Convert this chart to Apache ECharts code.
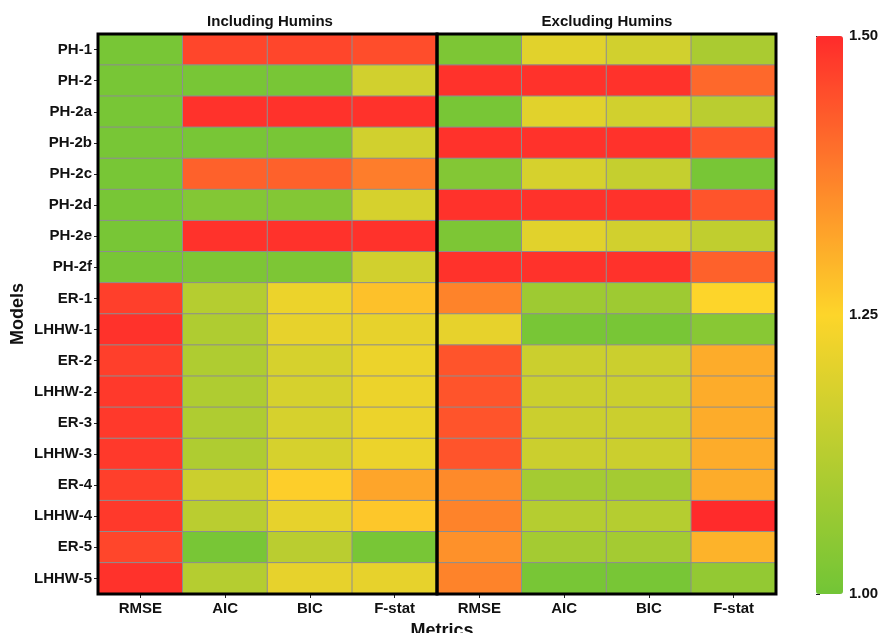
<!DOCTYPE html>
<html><head><meta charset="utf-8">
<script src="https://cdn.jsdelivr.net/npm/echarts@6/dist/echarts.min.js"></script>
<style>html,body{margin:0;padding:0;background:#fff}#c{width:882px;height:633px}</style>
</head><body><div id="c"></div>
<script>
const models = ['PH-1','PH-2','PH-2a','PH-2b','PH-2c','PH-2d','PH-2e','PH-2f','ER-1','LHHW-1','ER-2','LHHW-2','ER-3','LHHW-3','ER-4','LHHW-4','ER-5','LHHW-5'];
const metrics = ['RMSE','AIC','BIC','F-stat'];
const groups = ['Including Humins','Excluding Humins'];
const colorTicks = [1.00, 1.25, 1.50];

// Including humins
const incRMSE = [1.01,1.01,1.01,1.01,1.01,1.01,1.01,1.01,1.47,1.49,1.47,1.48,1.48,1.48,1.47,1.48,1.46,1.49];
const incAIC  = [1.46,1.01,1.49,1.01,1.42,1.03,1.49,1.02,1.12,1.11,1.11,1.11,1.11,1.11,1.16,1.13,1.01,1.12];
const incBIC  = [1.46,1.01,1.49,1.01,1.42,1.03,1.49,1.02,1.22,1.21,1.18,1.18,1.18,1.18,1.26,1.21,1.13,1.21];
const incF    = [1.45,1.17,1.49,1.17,1.38,1.18,1.49,1.17,1.28,1.21,1.22,1.22,1.22,1.22,1.32,1.27,1.01,1.21];
// Excluding humins
const excRMSE = [1.02,1.49,1.01,1.49,1.03,1.49,1.02,1.49,1.37,1.21,1.44,1.44,1.44,1.44,1.36,1.37,1.35,1.37];
const excAIC  = [1.20,1.49,1.20,1.49,1.18,1.49,1.20,1.49,1.08,1.01,1.16,1.16,1.16,1.16,1.09,1.12,1.09,1.01];
const excBIC  = [1.17,1.49,1.17,1.49,1.15,1.49,1.17,1.49,1.08,1.01,1.16,1.16,1.16,1.16,1.09,1.12,1.09,1.01];
const excF    = [1.10,1.41,1.13,1.44,1.01,1.44,1.14,1.42,1.25,1.04,1.31,1.31,1.31,1.31,1.31,1.50,1.30,1.06];

function build(cols){
  const d=[];
  cols.forEach((arr,xi)=>arr.forEach((v,yi)=>d.push([xi,yi,v])));
  return d;
}
const incData = build([incRMSE,incAIC,incBIC,incF]);
const excData = build([excRMSE,excAIC,excBIC,excF]);

const FONT='Liberation Sans, Arial, sans-serif';
const lbl={fontFamily:FONT,fontWeight:'bold',fontSize:15,color:'#111'};

function xAxisFor(gi){
  return {type:'category',gridIndex:gi,data:metrics,position:'bottom',
    axisLine:{show:false},axisTick:{show:true,alignWithLabel:true,length:4,lineStyle:{color:'#222'}},
    axisLabel:Object.assign({margin:7},lbl),splitLine:{show:false}};
}
const option={
  backgroundColor:'#fff',
  animation:false,
  title:[
    {text:groups[0],left:265,top:9,textAlign:'center',textStyle:{fontFamily:FONT,fontWeight:'bold',fontSize:15,color:'#111'}},
    {text:groups[1],left:602,top:9,textAlign:'center',textStyle:{fontFamily:FONT,fontWeight:'bold',fontSize:15,color:'#111'}},
    {text:'Metrics',left:437,top:617,textAlign:'center',textStyle:{fontFamily:FONT,fontWeight:'bold',fontSize:18,color:'#111'}}
  ],
  grid:[
    {left:98,top:34,width:339,height:560,show:true,z:10,borderColor:'#000',borderWidth:3,backgroundColor:'transparent'},
    {left:437,top:34,width:339,height:560,show:true,z:10,borderColor:'#000',borderWidth:3,backgroundColor:'transparent'},
    {left:816,top:36,width:27,height:558,show:false}
  ],
  xAxis:[xAxisFor(0),xAxisFor(1),{type:'value',gridIndex:2,show:false,min:0,max:1}],
  yAxis:[
    {type:'category',gridIndex:0,data:models,inverse:true,
      axisLine:{show:false},axisTick:{show:true,alignWithLabel:true,length:4,lineStyle:{color:'#222'}},
      axisLabel:Object.assign({margin:6},lbl),
      name:'Models',nameLocation:'middle',nameGap:71,nameRotate:90,
      nameTextStyle:{fontFamily:FONT,fontWeight:'bold',fontSize:18,color:'#111'}},
    {type:'category',gridIndex:1,data:models,inverse:true,show:false},
    {type:'value',gridIndex:2,min:colorTicks[0],max:colorTicks[2],interval:0.25,position:'right',
      axisLine:{show:false},axisTick:{show:true,length:4,lineStyle:{color:'#222'}},
      axisLabel:Object.assign({margin:6,formatter:v=>v.toFixed(2)},lbl),splitLine:{show:false}}
  ],
  visualMap:{type:'continuous',min:colorTicks[0],max:colorTicks[2],seriesIndex:[0,1],
    orient:'vertical',left:816,top:36,itemWidth:27,itemHeight:558,padding:0,
    calculable:false,hoverLink:false,text:null,showLabel:false,
    inRange:{color:['#72c536','#fdd52a','#ff2b2b']}},
  series:[
    {type:'heatmap',xAxisIndex:0,yAxisIndex:0,data:incData,itemStyle:{borderColor:'#8e8e8e',borderWidth:1},emphasis:{disabled:true}},
    {type:'heatmap',xAxisIndex:1,yAxisIndex:1,data:excData,itemStyle:{borderColor:'#8e8e8e',borderWidth:1},emphasis:{disabled:true}}
  ]
};
const chart=echarts.init(document.getElementById('c'),null,{renderer:'canvas'});
chart.setOption(option);
</script></body></html>
